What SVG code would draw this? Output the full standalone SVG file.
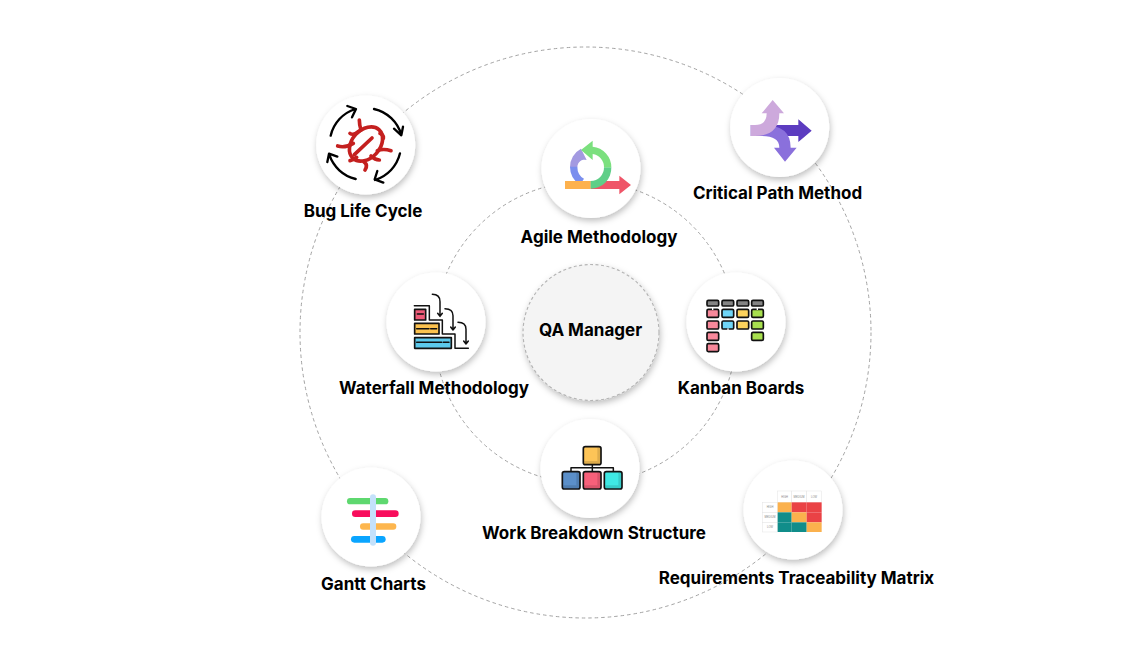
<svg xmlns="http://www.w3.org/2000/svg" width="1148" height="668" viewBox="0 0 1148 668">
<style>
.ring{fill:none;stroke:#a3a3a3;stroke-width:1;stroke-dasharray:3.500 3}
.disc{fill:#fff;filter:url(#sh)}
.lb{font-family:Inter,"Liberation Sans",sans-serif;font-weight:700;font-size:17px;fill:#000;text-anchor:middle}
.k{stroke:#111;stroke-width:5;stroke-linejoin:round;stroke-linecap:round}
.ln{fill:none;stroke:#111;stroke-width:4.500;stroke-linecap:round;stroke-linejoin:round}
.ar{fill:none;stroke:#000;stroke-width:7;stroke-linecap:round;stroke-linejoin:round}
.bug{fill:none;stroke:#c4201f;stroke-width:11;stroke-linecap:round;stroke-linejoin:round}
.cell{fill:#fff;stroke:#e4e4e4;stroke-width:1.500}
.t{font-family:"Liberation Sans",sans-serif;font-size:8px;fill:#888;text-anchor:middle}
.tick{fill:#fff}
.shade{fill:#000;opacity:.12}
</style>
<defs>
<filter id="sh" x="-20%" y="-20%" width="140%" height="140%"><feDropShadow dx="1" dy="3" stdDeviation="3" flood-color="#000" flood-opacity=".25"/></filter>
</defs>
<rect width="1148" height="668" fill="#fff"/>
<g id="connectors">
<circle class="ring" cx="585.500" cy="332.500" r="285.500"/>
<circle class="ring" cx="585.500" cy="332.500" r="151"/>
</g>
<g id="center">
<circle cx="591" cy="332.500" r="68" fill="#f4f4f4" stroke="#b5b5b5" stroke-width="1.200" stroke-dasharray="3 2.500" filter="url(#sh)"/>
<text class="lb" x="590.500" y="336">QA Manager</text>
</g>
<g id="bug-life-cycle">
<circle class="disc" cx="365.700" cy="145" r="49.500"/>
<g transform="translate(300 80) scale(.33333)">
<path class="ar" d="M92 167A110 110 0 0 1 166 87M142 78L168 87L156 112"/>
<path class="ar" d="M222 87A110 110 0 0 1 304 165M282 146L304 166L309 140"/>
<path class="ar" d="M300 220A110 110 0 0 1 225 300M232 273L224 298L250 308"/>
<path class="ar" d="M167 297A110 110 0 0 1 88 224M82 246L87 221L112 230"/>
<g class="bug">
<ellipse cx="198" cy="192" rx="42" ry="58" transform="rotate(42 198 192)"/>
<path d="M163 224L216 174M183 150Q178 135 178 120M178 153Q160 168 150 160M160 190Q135 205 113 198M240 160Q252 165 250 175M232 212Q250 205 273 212M170 232Q160 240 150 242M213 228Q225 240 238 240M192 246Q205 255 195 270"/>
</g>
</g>
<text class="lb" x="363" y="217">Bug Life Cycle</text>
</g>
<g id="agile-methodology">
<circle class="disc" cx="591" cy="168.500" r="49.500"/>
<g transform="translate(530 110) scale(.33333)">
<path d="M120 172A62 62 0 0 1 153 116L170 150A22 22 0 0 0 142 172Z" fill="#a39ae1"/>
<path d="M120 170H142Q142 195 162 206L150 224Q120 205 120 170Z" fill="#7b8fee"/>
<path d="M182 213H268V197L303 225L268 253V237H182Z" fill="#ef5568"/>
<rect x="105" y="213" width="77" height="24" fill="#fdb14d"/>
<path d="M182 232V213A40 40 0 0 0 222 172H244A62 62 0 0 1 182 236Z" fill="#5fcf88"/>
<path d="M244 172A62 62 0 0 0 188 110V92L153 120L188 150V132A40 40 0 0 1 222 172Z" fill="#7be07e"/>
</g>
<text class="lb" x="599" y="243">Agile Methodology</text>
</g>
<g id="critical-path-method">
<circle class="disc" cx="779.700" cy="127.500" r="49.500"/>
<g transform="translate(720 70) scale(.33333)">
<path d="M150 165H235V148L275 182L235 216V198H150Z" fill="#5c3cc0"/>
<path d="M92 198H125Q178 198 178 233H162L195 275L230 233H212Q212 165 130 165H92Z" fill="#8a70dc"/>
<path d="M92 165H105Q140 165 140 130H125L158 90L192 130H178Q178 198 105 198H92Z" fill="#cda9dc"/>
</g>
<text class="lb" x="777.500" y="199">Critical Path Method</text>
</g>
<g id="waterfall-methodology">
<circle class="disc" cx="436" cy="322" r="49.500"/>
<g transform="translate(380 270) scale(.33333)">
<path class="ln" d="M103 107H148V150H187V192H225V235H265"/>
<rect class="k" x="104" y="118" width="33" height="32" fill="#ef5b78"/>
<rect class="k" x="104" y="160" width="73" height="32" fill="#fcc24f"/>
<rect class="k" x="104" y="203" width="110" height="32" fill="#5cc9ec"/>
<path class="ln" d="M112 132H130M110 176H147M152 176H170M110 217H185M190 217H207"/>
<path class="ln" d="M157 73Q180 73 180 95V138M173 130L180 139L187 130M195 116Q219 116 219 137V180M212 171L219 180L226 171M234 157Q258 157 258 178V222M251 213L258 222L265 213"/>
</g>
<text class="lb" x="434" y="394">Waterfall Methodology</text>
</g>
<g id="kanban-boards">
<circle class="disc" cx="736" cy="322" r="49.500"/>
<g transform="translate(680 270) scale(.33333)">
<g class="k" fill="#858585"><rect x="81" y="91" width="35" height="17" rx="4"/><rect x="126" y="91" width="35" height="17" rx="4"/><rect x="171" y="91" width="35" height="17" rx="4"/><rect x="215" y="91" width="35" height="17" rx="4"/></g>
<g class="k" fill="#f8899b"><rect x="81" y="118" width="35" height="24" rx="4"/><rect x="81" y="153" width="35" height="24" rx="4"/><rect x="81" y="187" width="35" height="24" rx="4"/><rect x="81" y="221" width="35" height="24" rx="4"/></g>
<g class="k" fill="#6fd5f7"><rect x="126" y="118" width="35" height="24" rx="4"/><rect x="126" y="153" width="35" height="24" rx="4"/></g>
<g class="k" fill="#fdd35d"><rect x="171" y="118" width="35" height="24" rx="4"/><rect x="171" y="153" width="35" height="24" rx="4"/></g>
<g class="k" fill="#a8e04e"><rect x="215" y="118" width="35" height="24" rx="4"/><rect x="215" y="153" width="35" height="24" rx="4"/><rect x="215" y="187" width="35" height="24" rx="4"/></g>
<rect class="tick" x="96" y="114" width="4" height="6"/><rect class="tick" x="230" y="114" width="4" height="6"/><rect class="tick" x="142" y="175" width="4" height="6"/>
</g>
<text class="lb" x="741" y="394">Kanban Boards</text>
</g>
<g id="work-breakdown-structure">
<circle class="disc" cx="590" cy="468.500" r="49.500"/>
<g transform="translate(530 415) scale(.33333)">
<path class="ln" d="M187 149V170M123 170V158H250V170"/>
<rect class="k" x="160" y="95" width="53" height="54" rx="6" fill="#fdc457"/>
<rect class="k" x="97" y="170" width="53" height="52" rx="6" fill="#5b8fc9"/>
<rect class="k" x="160" y="170" width="53" height="52" rx="6" fill="#f7607a"/>
<rect class="k" x="223" y="170" width="53" height="52" rx="6" fill="#3fe8e4"/>
<path class="shade" d="M202 97H211V147H163V138H202ZM139 172H148V220H100V211H139ZM202 172H211V220H163V211H202ZM265 172H274V220H226V211H265Z"/>
</g>
<text class="lb" x="594" y="539">Work Breakdown Structure</text>
</g>
<g id="gantt-charts">
<circle class="disc" cx="371" cy="517" r="49.500"/>
<g transform="translate(315 465) scale(.33333)">
<rect x="96" y="99" width="124" height="19" rx="9.500" fill="#5ed86f"/>
<rect x="111" y="136" width="140" height="20" rx="10" fill="#f80d5c"/>
<rect x="135" y="175" width="109" height="19" rx="9.500" fill="#fdb64e"/>
<rect x="108" y="213" width="104" height="20" rx="10" fill="#0aa5ff"/>
<rect x="165" y="88" width="18" height="154" rx="9" fill="#c4e1fb"/>
</g>
<text class="lb" x="373.500" y="590">Gantt Charts</text>
</g>
<g id="requirements-traceability-matrix">
<circle class="disc" cx="793" cy="510" r="49.500"/>
<g transform="translate(750 475) scale(.33333)">
<rect class="cell" x="83" y="48" width="42" height="34"/><rect class="cell" x="125" y="48" width="45" height="34"/><rect class="cell" x="170" y="48" width="45" height="34"/>
<rect class="cell" x="37" y="82" width="46" height="30"/><rect class="cell" x="37" y="112" width="46" height="30"/><rect class="cell" x="37" y="142" width="46" height="29"/>
<rect x="83" y="82" width="42" height="30" fill="#fbb14d"/><rect x="125" y="82" width="45" height="30" fill="#ea4245"/><rect x="170" y="82" width="45" height="30" fill="#ea4245"/>
<rect x="83" y="112" width="42" height="30" fill="#108d8a"/><rect x="125" y="112" width="45" height="30" fill="#fbb14d"/><rect x="170" y="112" width="45" height="30" fill="#ea4245"/>
<rect x="83" y="142" width="42" height="29" fill="#108d8a"/><rect x="125" y="142" width="45" height="29" fill="#108d8a"/><rect x="170" y="142" width="45" height="29" fill="#fbb14d"/>
<text class="t" x="104" y="68">HIGH</text><text class="t" x="147" y="68">MEDIUM</text><text class="t" x="192" y="68">LOW</text>
<text class="t" x="60" y="100">HIGH</text><text class="t" x="60" y="130">MEDIUM</text><text class="t" x="60" y="160">LOW</text>
</g>
<text class="lb" x="796.500" y="584">Requirements Traceability Matrix</text>
</g>
</svg>
